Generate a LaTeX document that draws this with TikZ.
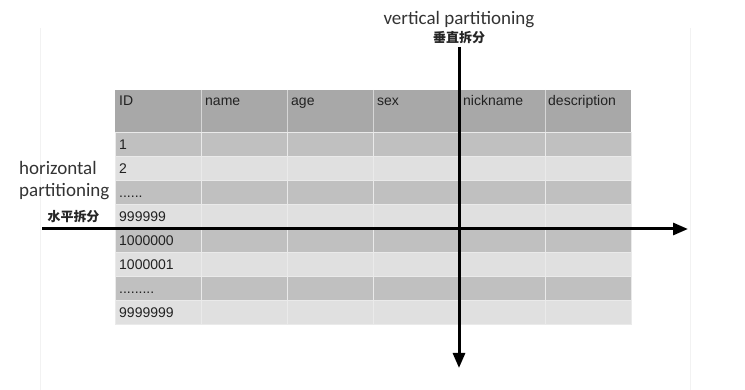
\documentclass[tikz,border=0pt]{standalone}
\usepackage{fontspec}
\setmainfont{Liberation Sans}
\newfontfamily\labelfont{Carlito}
\newfontfamily\cjk{Noto Sans CJK SC}
\usetikzlibrary{arrows.meta}
\definecolor{hdr}{HTML}{A8A8A8}
\definecolor{dark}{HTML}{C0C0C0}
\definecolor{light}{HTML}{E0E0E0}
\definecolor{sep}{HTML}{EAEAEA}
\definecolor{txt}{HTML}{222222}
\definecolor{frame}{HTML}{F2F2F2}
\begin{document}
\begin{tikzpicture}[x=1pt,y=-1pt,
  cell/.style={draw=sep,line width=1pt},
  celltext/.style={anchor=base west,inner sep=0pt,text=txt,font=\fontsize{14}{16}\selectfont},
  axis/.style={line width=3pt,-{Triangle[length=15pt,width=12pt]}},
  biglabel/.style={inner sep=0pt,font=\labelfont\fontsize{19}{22}\selectfont,text=black!80},
  cjklabel/.style={inner sep=0pt,font=\cjk\bfseries\fontsize{13}{15}\selectfont,text=black!85}]
\useasboundingbox (0,0) rectangle (745,390);
% faint frame lines
\draw[frame,line width=0.8pt] (40,28) -- (40,390);
\draw[frame,line width=0.8pt] (690,28) -- (690,390);
% header
\foreach \i in {0,...,5}{
  \fill[hdr] (115+86*\i,90) rectangle (201+86*\i,133);
}
\foreach \i in {1,...,5}{
  \draw[sep!70!hdr,line width=1pt] (115+86*\i,90) -- (115+86*\i,133);
}
% body rows
\foreach \r in {0,...,7}{
  \pgfmathsetmacro{\yy}{133+24*\r}
  \pgfmathtruncatemacro{\odd}{mod(\r,2)}
  \ifnum\odd=0 \def\rc{dark}\else\def\rc{light}\fi
  \foreach \i in {0,...,5}{
    \filldraw[fill=\rc,cell] (115+86*\i,\yy) rectangle (201+86*\i,\yy+24);
  }
}
% header text
\node[celltext] (hID) at (119,106) {ID};
\node[celltext] (hname) at (205,106) {name};
\node[celltext] (hage) at (291,106) {age};
\node[celltext] (hsex) at (377,106) {sex};
\node[celltext] (hnick) at (463,106) {nickname};
\node[celltext] (hdesc) at (548,106) {description};
% row text
\node[celltext] (r1) at (119,150) {1};
\node[celltext] (r2) at (119,174) {2};
\node[celltext] (r3) at (119,198) {......};
\node[celltext] (r4) at (119,222) {999999};
\node[celltext] (r5) at (119,246) {1000000};
\node[celltext] (r6) at (119,270) {1000001};
\node[celltext] (r7) at (119,294) {.........};
\node[celltext] (r8) at (119,318) {9999999};
% labels
\node[biglabel,anchor=base] (vlab) at (459,25) {vertical partitioning};
\node[cjklabel] (vcjk) at (459,38) {垂直拆分};
\node[biglabel,anchor=base west] (hlab1) at (19,175) {horizontal};
\node[biglabel,anchor=base west] (hlab2) at (19,197) {partitioning};
\node[cjklabel] (hcjk) at (73.5,217) {水平拆分};
% axes
\coordinate (vstart) at (459,47);
\coordinate (vend) at (459,368);
\coordinate (hstart) at (42,229);
\coordinate (hend) at (688,229);
\draw[axis] (hstart) -- (hend);
\draw[axis] (vstart) -- (vend);
\end{tikzpicture}
\end{document}
